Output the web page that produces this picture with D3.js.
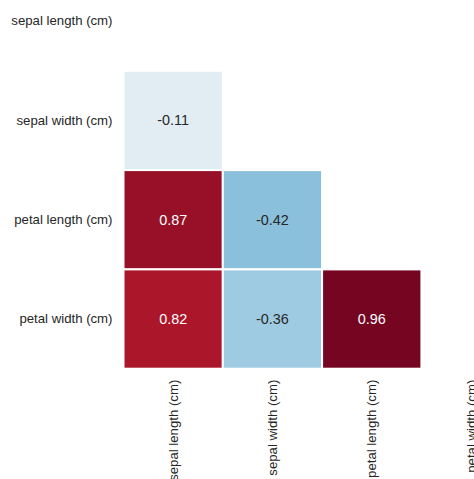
<!DOCTYPE html>
<html>
<head>
<meta charset="utf-8">
<script src="https://cdn.jsdelivr.net/npm/d3@7"></script>
<style>
  html, body { margin: 0; padding: 0; background: #fff; overflow: hidden; }
  svg { display: block; font-family: "Liberation Sans", Arial, sans-serif; }
</style>
</head>
<body>
<div id="chart"></div>
<script>
// Data
const features = ["sepal length (cm)", "sepal width (cm)", "petal length (cm)", "petal width (cm)"];
const corrRows = [
  [1.00, -0.11, 0.87, 0.82],
  [-0.11, 1.00, -0.42, -0.36],
  [0.87, -0.42, 1.00, 0.96],
  [0.82, -0.36, 0.96, 1.00]
];
// RdBu_r stops (ColorBrewer, as matplotlib)
const rdbuStops = ["#053061", "#2166ac", "#4393c3", "#92c5de", "#d1e5f0", "#f7f7f7",
                   "#fddbc7", "#f4a582", "#d6604d", "#b2182b", "#67001f"];

// Dimensions
const width = 474;
const height = 479;
const gridLeft = 123.5;
const gridTop = -28.5;
const cell = 99.3;

const svg = d3.select("#chart")
  .append("svg")
  .attr("width", width)
  .attr("height", height);

const x = d3.scaleBand()
  .domain(features)
  .range([gridLeft, gridLeft + cell * features.length]);

const y = d3.scaleBand()
  .domain(features)
  .range([gridTop, gridTop + cell * features.length]);

const color = d3.scaleLinear()
  .domain(d3.range(rdbuStops.length).map(i => -1 + i * 2 / (rdbuStops.length - 1)))
  .range(rdbuStops)
  .interpolate(d3.interpolateRgb)
  .clamp(true);

// plain hyphen for negatives, like the annotations in the picture
const fmt = d3.formatLocale({ decimal: ".", thousands: ",", grouping: [3], currency: ["", ""], minus: "-" }).format(".2f");

// lower triangle only (diagonal masked)
const cells = [];
corrRows.forEach((row, i) => {
  row.forEach((v, j) => {
    if (i > j) cells.push({ row: features[i], col: features[j], value: v });
  });
});

// luminance check like seaborn
function textColor(c) {
  const rgb = d3.rgb(c);
  const lin = [rgb.r, rgb.g, rgb.b].map(v => {
    v = v / 255;
    return v <= 0.03928 ? v / 12.92 : Math.pow((v + 0.055) / 1.055, 2.4);
  });
  const lum = 0.2126 * lin[0] + 0.7152 * lin[1] + 0.0722 * lin[2];
  return lum > 0.408 ? "#262626" : "#ffffff";
}

// Cells
svg.append("g")
  .selectAll("rect")
  .data(cells).enter()
  .append("rect")
  .attr("x", d => x(d.col))
  .attr("y", d => y(d.row))
  .attr("width", x.bandwidth())
  .attr("height", y.bandwidth())
  .attr("fill", d => color(d.value))
  .attr("stroke", "#ffffff")
  .attr("stroke-width", 2);

// Annotations
svg.append("g")
  .selectAll("text")
  .data(cells).enter()
  .append("text")
  .attr("x", d => x(d.col) + x.bandwidth() / 2)
  .attr("y", d => y(d.row) + y.bandwidth() / 2)
  .attr("text-anchor", "middle")
  .attr("dominant-baseline", "central")
  .attr("font-size", "14.4px")
  .attr("fill", d => textColor(color(d.value)))
  .text(d => fmt(d.value));

// Y Axis
const yAxis = svg.append("g")
  .attr("transform", "translate(" + gridLeft + ",0)")
  .call(d3.axisLeft(y).tickSize(0).tickPadding(11));
yAxis.select(".domain").remove();
yAxis.selectAll("text")
  .attr("font-size", "13.2px")
  .attr("font-family", "Liberation Sans, Arial, sans-serif")
  .attr("fill", "#262626");

// X Axis
const xBottom = gridTop + cell * features.length;
const xAxis = svg.append("g")
  .attr("transform", "translate(0," + xBottom + ")")
  .call(d3.axisBottom(x).tickSize(0).tickPadding(11));
xAxis.select(".domain").remove();
xAxis.selectAll("text")
  .attr("font-size", "13.2px")
  .attr("font-family", "Liberation Sans, Arial, sans-serif")
  .attr("fill", "#262626")
  .attr("transform", "rotate(-90)")
  .attr("text-anchor", "end")
  .attr("dy", "0.35em")
  .attr("x", -11)
  .attr("y", 0);
</script>
</body>
</html>
